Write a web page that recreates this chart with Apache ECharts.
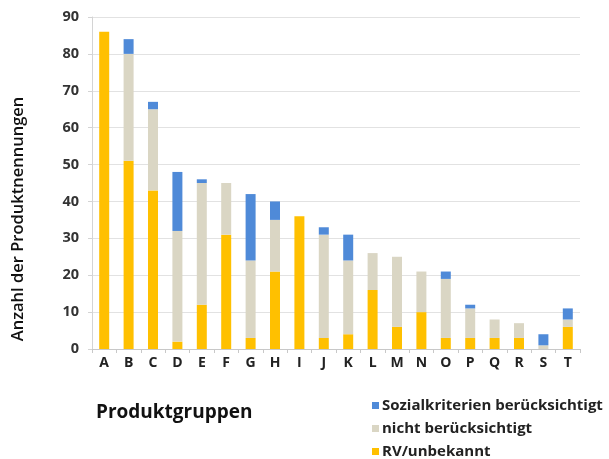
<!DOCTYPE html>
<html>
<head>
<meta charset="utf-8">
<script src="https://cdn.jsdelivr.net/npm/echarts@6/dist/echarts.min.js"></script>
<style>
  html, body { margin: 0; padding: 0; background: #fff; }
  #chart { width: 609px; height: 459px; }
</style>
</head>
<body>
<div id="chart"></div>
<script>
// Product groups and the three stacked parts per group
const categories = ['A','B','C','D','E','F','G','H','I','J','K','L','M','N','O','P','Q','R','S','T'];
const rvUnbekannt = [86, 51, 43, 2, 12, 31, 3, 21, 36, 3, 4, 16, 6, 10, 3, 3, 3, 3, 0, 6];
const nichtBeruecksichtigt = [0, 29, 22, 30, 33, 14, 21, 14, 0, 28, 20, 10, 19, 11, 16, 8, 5, 4, 1, 2];
const sozialkriterien = [0, 4, 2, 16, 1, 0, 18, 5, 0, 2, 7, 0, 0, 0, 2, 1, 0, 0, 3, 3];
const yTicks = [0, 10, 20, 30, 40, 50, 60, 70, 80, 90];

const NAME_SOZ = 'Sozialkriterien berücksichtigt';
const NAME_NICHT = 'nicht berücksichtigt';
const NAME_RV = 'RV/unbekannt';

const font = '"Open Sans", "Noto Sans", sans-serif';
const chart = echarts.init(document.getElementById('chart'), null, { renderer: 'canvas' });

const barBase = { type: 'bar', stack: 'total', barWidth: 10, animation: false };

chart.setOption({
  backgroundColor: '#ffffff',
  textStyle: { fontFamily: font },
  title: {
    text: 'Produktgruppen',
    left: 96, top: 403, padding: 0,
    textStyle: { fontFamily: font, fontSize: 19, fontWeight: 'bold', color: '#111' }
  },
  graphic: [{
    type: 'text',
    x: 18, y: 219,
    rotation: Math.PI / 2,
    style: {
      text: 'Anzahl der Produktnennungen',
      fontFamily: font, fontSize: 16.5, fontWeight: 600, fill: '#111',
      align: 'center', verticalAlign: 'middle'
    }
  }],
  legend: {
    orient: 'vertical',
    left: 372, top: 398, padding: 0,
    itemWidth: 7, itemHeight: 7, itemGap: 8,
    icon: 'rect',
    data: [NAME_SOZ, NAME_NICHT, NAME_RV],
    textStyle: { fontFamily: font, fontSize: 15, fontWeight: 'bold', color: '#222', lineHeight: 15, padding: [0, 0, 0, -2] }
  },
  grid: { left: 92, right: 29, top: 17, bottom: 110, containLabel: false },
  xAxis: {
    type: 'category',
    data: categories,
    axisLine: { show: true, lineStyle: { color: '#c8c8c8', width: 1 } },
    axisTick: { show: true, alignWithLabel: false, length: 4, lineStyle: { color: '#c8c8c8' } },
    axisLabel: { fontFamily: font, fontSize: 14, fontWeight: 'bold', color: '#222', margin: 7 }
  },
  yAxis: {
    type: 'value',
    min: yTicks[0], max: yTicks[yTicks.length - 1], interval: 10,
    axisLine: { show: true, lineStyle: { color: '#d4d4d4' } },
    axisTick: { show: true, length: 4, lineStyle: { color: '#d4d4d4' } },
    axisLabel: { fontFamily: font, fontSize: 14.5, fontWeight: 'bold', color: '#333', margin: 13 },
    splitLine: { show: true, lineStyle: { color: '#e2e2e2', width: 1 } }
  },
  series: [
    Object.assign({}, barBase, { name: NAME_RV, data: rvUnbekannt, itemStyle: { color: '#FFC000' } }),
    Object.assign({}, barBase, { name: NAME_NICHT, data: nichtBeruecksichtigt, itemStyle: { color: '#DAD6C4' } }),
    Object.assign({}, barBase, { name: NAME_SOZ, data: sozialkriterien, itemStyle: { color: '#4F8AD8' } })
  ]
});
</script>
</body>
</html>
